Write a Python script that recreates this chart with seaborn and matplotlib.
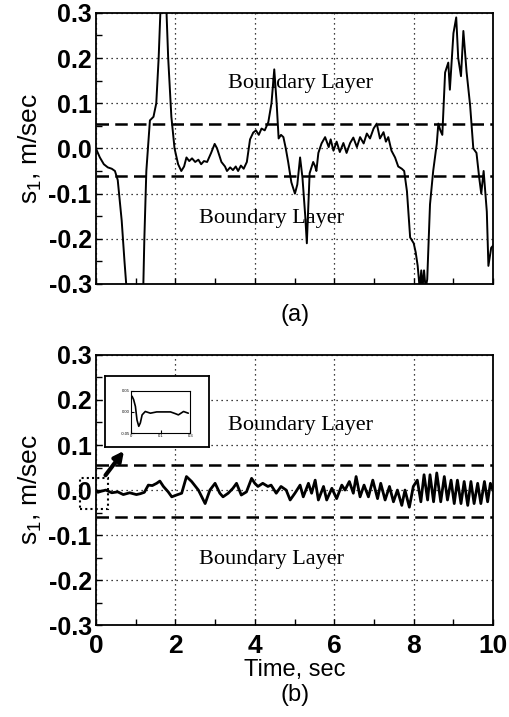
import matplotlib
matplotlib.use('Agg')
import matplotlib.pyplot as plt
from matplotlib.patches import Rectangle
from matplotlib.ticker import MultipleLocator
import pandas as pd
import seaborn as sns

# (a) sliding function
a_time = [0.0, 0.1, 0.2, 0.3, 0.4, 0.48, 0.55, 0.65, 0.72, 0.78, 0.98, 1.19, 1.22, 1.27, 1.36, 1.45,
          1.52, 1.58, 1.63, 1.70, 1.77, 1.82, 1.90, 1.98, 2.07, 2.15, 2.22, 2.28, 2.35, 2.42, 2.5,
          2.58, 2.65, 2.72, 2.8, 2.9, 2.99, 3.05, 3.16, 3.25, 3.3, 3.38, 3.45, 3.52, 3.58, 3.65,
          3.72, 3.8, 3.88, 3.96, 4.03, 4.1, 4.17, 4.25, 4.34, 4.42, 4.49, 4.55, 4.6, 4.66, 4.72,
          4.78, 4.84, 4.92, 5.01, 5.07, 5.14, 5.2, 5.27, 5.31, 5.35, 5.38, 5.47, 5.52, 5.55, 5.6,
          5.68, 5.77, 5.86, 5.91, 5.98, 6.06, 6.14, 6.23, 6.31, 6.4, 6.48, 6.57, 6.65, 6.74, 6.82,
          6.9, 6.99, 7.07, 7.15, 7.24, 7.3, 7.36, 7.44, 7.53, 7.61, 7.7, 7.76, 7.83, 7.91, 8.0,
          8.05, 8.1, 8.15, 8.19, 8.22, 8.26, 8.3, 8.34, 8.41, 8.49, 8.58, 8.62, 8.67, 8.72, 8.79,
          8.87, 8.91, 9.0, 9.07, 9.12, 9.19, 9.25, 9.33, 9.42, 9.5, 9.58, 9.65, 9.7, 9.76, 9.84,
          9.88, 9.95, 10.0]
a_s1 = [0.0, -0.02, -0.035, -0.042, -0.045, -0.05, -0.07, -0.16, -0.25, -0.32, -0.55, -0.32, -0.2,
        -0.05, 0.062, 0.07, 0.1, 0.2, 0.32, 0.45, 0.32, 0.2, 0.07, 0.0, -0.035, -0.05, -0.04,
        -0.02, -0.028, -0.022, -0.03, -0.025, -0.035, -0.028, -0.03, -0.01, 0.01, 0.0, -0.03,
        -0.04, -0.05, -0.042, -0.048, -0.04, -0.05, -0.038, -0.045, -0.03, 0.02, 0.035, 0.04,
        0.03, 0.044, 0.04, 0.058, 0.1, 0.175, 0.1, 0.022, 0.03, 0.025, 0.0, -0.03, -0.075, -0.1,
        -0.08, -0.02, -0.065, -0.15, -0.21, -0.12, -0.055, -0.03, -0.04, -0.05, -0.01, 0.011,
        0.025, 0.003, 0.02, -0.005, 0.015, -0.008, 0.012, -0.01, 0.012, 0.024, 0.003, 0.025,
        0.011, 0.033, 0.022, 0.044, 0.055, 0.022, 0.036, 0.015, 0.025, -0.005, -0.02, -0.04,
        -0.045, -0.05, -0.095, -0.197, -0.21, -0.23, -0.26, -0.31, -0.27, -0.31, -0.27, -0.31,
        -0.29, -0.124, -0.05, 0.01, 0.055, 0.04, 0.03, 0.168, 0.19, 0.13, 0.255, 0.29, 0.2, 0.16,
        0.26, 0.17, 0.095, 0.0, -0.01, -0.066, -0.1, -0.05, -0.14, -0.26, -0.22, -0.215]

# (b) sliding function with the tracking controller
b_time = [0.0, 0.05, 0.12, 0.25, 0.4, 0.55, 0.69, 0.85, 1.02, 1.12, 1.22, 1.32, 1.42, 1.53, 1.61,
          1.7, 1.82, 1.91, 2.03, 2.16, 2.28, 2.41, 2.58, 2.75, 2.87, 3.0, 3.12, 3.2, 3.33, 3.45,
          3.54, 3.66, 3.79, 3.92, 4.0, 4.08, 4.2, 4.33, 4.41, 4.54, 4.66, 4.79, 4.89, 5.01, 5.14,
          5.22, 5.35, 5.43, 5.52, 5.6, 5.73, 5.81, 5.94, 6.06, 6.19, 6.27, 6.38, 6.48, 6.55, 6.65,
          6.75, 6.86, 6.97, 7.09, 7.17, 7.28, 7.39, 7.49, 7.59, 7.7, 7.78, 7.89, 7.99, 8.09, 8.18,
          8.26, 8.35, 8.41, 8.5, 8.58, 8.68, 8.77, 8.85, 8.94, 9.02, 9.1, 9.19, 9.27, 9.36, 9.44,
          9.52, 9.61, 9.69, 9.78, 9.86, 9.93, 10.0]
b_s1 = [0.0, -0.005, -0.003, 0.0, -0.006, -0.004, -0.01, -0.006, -0.01, -0.008, -0.005, 0.011,
        0.01, 0.015, 0.02, 0.008, -0.004, -0.015, -0.011, -0.007, 0.03, 0.019, 0.0, -0.03, 0.0,
        0.015, -0.007, -0.015, -0.007, 0.004, 0.015, -0.011, -0.004, 0.026, 0.015, 0.008, 0.015,
        0.008, 0.011, -0.007, 0.008, 0.0, -0.022, -0.007, 0.011, -0.015, 0.015, -0.007, 0.022,
        -0.022, 0.008, -0.022, 0.004, -0.019, 0.011, 0.0, 0.019, -0.007, 0.03, -0.015, 0.011,
        -0.015, 0.022, -0.019, 0.015, -0.022, 0.008, -0.026, 0.0, -0.034, 0.0, -0.038, 0.008,
        0.022, -0.026, 0.034, -0.022, 0.034, -0.026, 0.038, -0.026, 0.03, -0.022, 0.022, -0.03,
        0.022, -0.03, 0.019, -0.034, 0.019, -0.03, 0.015, -0.03, 0.019, -0.026, 0.015, -0.002]

# zoomed start of (b), shown in the inset
zoom_time = [0.005, 0.013, 0.022, 0.03, 0.039, 0.047, 0.056, 0.072, 0.098, 0.13, 0.2, 0.224,
             0.24, 0.266, 0.29]
zoom_s1 = [0.037, 0.029, 0.013, -0.019, -0.034, -0.026, -0.007, 0.001, -0.003, 0.0, 0.0, -0.004,
           -0.007, 0.001, -0.003]

x_ticks = [0, 2, 4, 6, 8, 10]
y_ticks = [-0.3, -0.2, -0.1, 0.0, 0.1, 0.2, 0.3]
y_labels = ['-0.3', '-0.2', '-0.1', '0.0', '0.1', '0.2', '0.3']
layer_upper = 0.055
layer_lower = -0.06

sns.set_style('ticks')
plt.rcParams['font.family'] = ['Liberation Sans', 'DejaVu Sans']
plt.rcParams['mathtext.fontset'] = 'custom'
plt.rcParams['mathtext.rm'] = 'Liberation Sans'
plt.rcParams['mathtext.it'] = 'Liberation Sans'
plt.rcParams['axes.unicode_minus'] = False
for key in ('text.color', 'axes.labelcolor', 'xtick.color', 'ytick.color', 'axes.edgecolor'):
    plt.rcParams[key] = 'black'

fig = plt.figure(figsize=(5.10, 7.17), dpi=100)
ax_a = fig.add_axes([0.188, 0.604, 0.779, 0.378])
ax_b = fig.add_axes([0.188, 0.128, 0.779, 0.377])

df_a = pd.DataFrame({'t': a_time, 's1': a_s1})
df_b = pd.DataFrame({'t': b_time, 's1': b_s1})
sns.lineplot(data=df_a, x='t', y='s1', ax=ax_a, color='black', lw=1.4, sort=False)
sns.lineplot(data=df_b, x='t', y='s1', ax=ax_b, color='black', lw=2.0, sort=False)

for ax in (ax_a, ax_b):
    ax.set_xlim(0, 10)
    ax.set_ylim(-0.3, 0.3)
    ax.axhline(layer_upper, color='black', ls=(0, (5, 2.5)), lw=1.8)
    ax.axhline(layer_lower, color='black', ls=(0, (5, 2.5)), lw=1.8)
    ax.set_xticks(x_ticks)
    ax.xaxis.set_minor_locator(MultipleLocator(1))
    ax.set_yticks(y_ticks, y_labels, fontsize=18, fontweight='bold')
    ax.yaxis.set_minor_locator(MultipleLocator(0.05))
    ax.grid(True, which='major', color='black', ls=(0, (1, 3)), lw=0.9)
    ax.tick_params(which='both', direction='in', length=4, width=1.0)
    ax.tick_params(axis='y', pad=3)
    for sp in ax.spines.values():
        sp.set_linewidth(1.3)
    ax.set_ylabel('s$_1$, m/sec', fontsize=19, labelpad=3)
    ax.text(5.14, 0.143, 'Boundary Layer', family='Liberation Serif', fontsize=16,
            ha='center', va='center')
    ax.text(4.43, -0.155, 'Boundary Layer', family='Liberation Serif', fontsize=16,
            ha='center', va='center')

ax_a.set_xlabel('')
ax_a.tick_params(axis='x', labelbottom=False)
ax_b.set_xticks(x_ticks, [str(v) for v in x_ticks], fontsize=19, fontweight='bold')
ax_b.tick_params(axis='x', pad=6)
ax_b.set_xlabel('Time, sec', fontsize=17, labelpad=1)

fig.text(0.578, 0.561, '(a)', ha='center', va='center', fontsize=17)
fig.text(0.578, 0.031, '(b)', ha='center', va='center', fontsize=17)
fig.text(0.5, -0.012, 'Fig. 4 Tracked sliding function', family='Liberation Serif',
         fontsize=14, ha='center', va='center')

# dotted box marking the zoomed region and the arrow to the inset
ax_b.add_patch(Rectangle((-0.4, -0.043), 0.7, 0.07, fill=False, ec='black', lw=1.5,
                         ls=(0, (1, 1.5)), clip_on=False))
ax_b.annotate('', xy=(0.75, 0.092), xytext=(0.2, 0.028),
              arrowprops=dict(arrowstyle='-|>', color='black', lw=3.0, mutation_scale=14))

# inset frame and inner plot
frame = fig.add_axes([0.206, 0.377, 0.204, 0.098])
frame.set_xticks([])
frame.set_yticks([])
frame.set_facecolor('white')
for sp in frame.spines.values():
    sp.set_linewidth(1.3)

inset = fig.add_axes([0.257, 0.396, 0.116, 0.059])
df_z = pd.DataFrame({'t': zoom_time, 's1': zoom_s1})
sns.lineplot(data=df_z, x='t', y='s1', ax=inset, color='black', lw=1.2, sort=False)
inset.set_xlim(0, 0.3)
inset.set_ylim(-0.05, 0.05)
inset.set_xticks([0, 0.15, 0.3], ['0', '0.1', '0.3'])
inset.set_yticks([-0.05, 0.0, 0.05], ['-0.05', '0.00', '0.05'])
inset.tick_params(which='both', direction='in', length=2, labelsize=3, pad=1)
inset.set_xlabel('')
inset.set_ylabel('')
for sp in inset.spines.values():
    sp.set_linewidth(0.8)

fig.savefig('out.png', dpi=100)
